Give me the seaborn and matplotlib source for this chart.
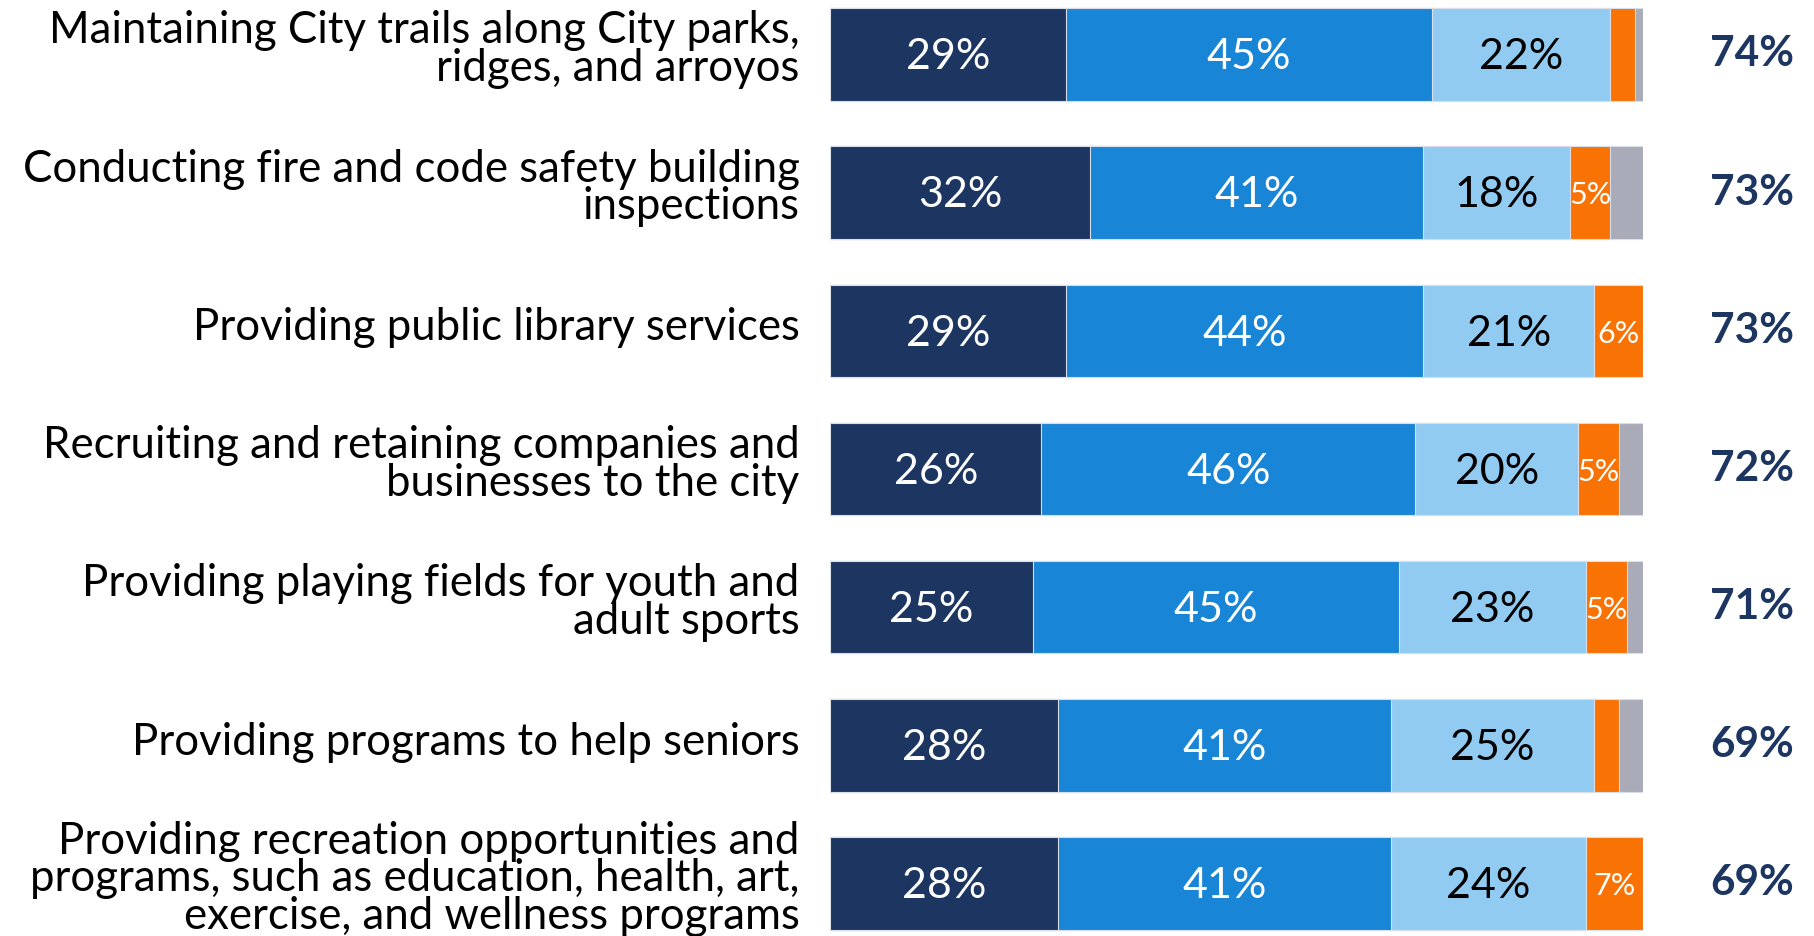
import numpy as np
import pandas as pd
import matplotlib
matplotlib.use('Agg')
import matplotlib.pyplot as plt
import matplotlib.transforms as mtransforms
import seaborn as sns

# 항목 / 응답 비율 (%)
items = ['Maintaining City trails along City parks,\nridges, and arroyos',
         'Conducting fire and code safety building\ninspections',
         'Providing public library services',
         'Recruiting and retaining companies and\nbusinesses to the city',
         'Providing playing fields for youth and\nadult sports',
         'Providing programs to help seniors',
         'Providing recreation opportunities and\nprograms, such as education, health, art,\nexercise, and wellness programs']
very = [29, 32, 29, 26, 25, 28, 28]
somewhat = [45, 41, 44, 46, 45, 41, 41]
neutral = [22, 18, 21, 20, 23, 25, 24]
notimp = [3, 5, 6, 5, 5, 3, 7]
dk = [1, 4, 0, 3, 2, 3, 0]
totals = [74, 73, 73, 72, 71, 69, 69]

seg_names = ['very', 'somewhat', 'neutral', 'notimp', 'dk']
seg_colors = ['#1D3661', '#1985D6', '#92CBF2', '#F97304', '#A9ABB8']
text_colors = ['white', 'white', 'black', 'white', None]

df = pd.DataFrame({'item': items, 'very': very, 'somewhat': somewhat,
                   'neutral': neutral, 'notimp': notimp, 'dk': dk})
cum = df[seg_names].cumsum(axis=1)

sns.set_style('white')
plt.rcParams['font.family'] = ['Lato', 'DejaVu Sans']

fig = plt.figure(figsize=(18.15, 9.36), dpi=100)
ax = fig.add_axes([830 / 1815, 0, 813 / 1815, 1])

# 누적 막대: 뒤에서부터 그리기
for i in range(len(seg_names) - 1, -1, -1):
    sns.barplot(x=cum[seg_names[i]], y=df['item'], color=seg_colors[i],
                orient='h', width=0.67, ax=ax, saturation=1,
                edgecolor='#D9DEE8', linewidth=0.8)

# 막대 안 라벨
for r in range(len(items)):
    left = 0
    for i, s in enumerate(seg_names):
        v = df.loc[r, s]
        if text_colors[i] and v >= 5:
            fs = 31 if i < 3 else 22
            ax.text(left + v / 2, r + 0.02, f'{v}%', ha='center', va='center',
                    color=text_colors[i], fontsize=fs)
        left += v
    ax.text(1.134, r, f'{totals[r]}%', transform=ax.get_yaxis_transform(),
            ha='center', va='center', color='#1D3661', fontsize=30.5,
            fontweight='bold')

ax.set_xlim(0, 100)
ax.set_ylim(6.38, -0.394)
ax.set_xlabel('')
ax.set_ylabel('')
ax.set_xticks([])
ax.tick_params(axis='y', length=0, pad=22, labelsize=31.5)
shift = mtransforms.ScaledTranslation(0, 5 / 72, fig.dpi_scale_trans)
for lab in ax.get_yticklabels():
    lab.set_linespacing(0.9)
    lab.set_color('black')
    lab.set_transform(lab.get_transform() + shift)
sns.despine(ax=ax, left=True, bottom=True)

fig.savefig('out.png', dpi=100)
